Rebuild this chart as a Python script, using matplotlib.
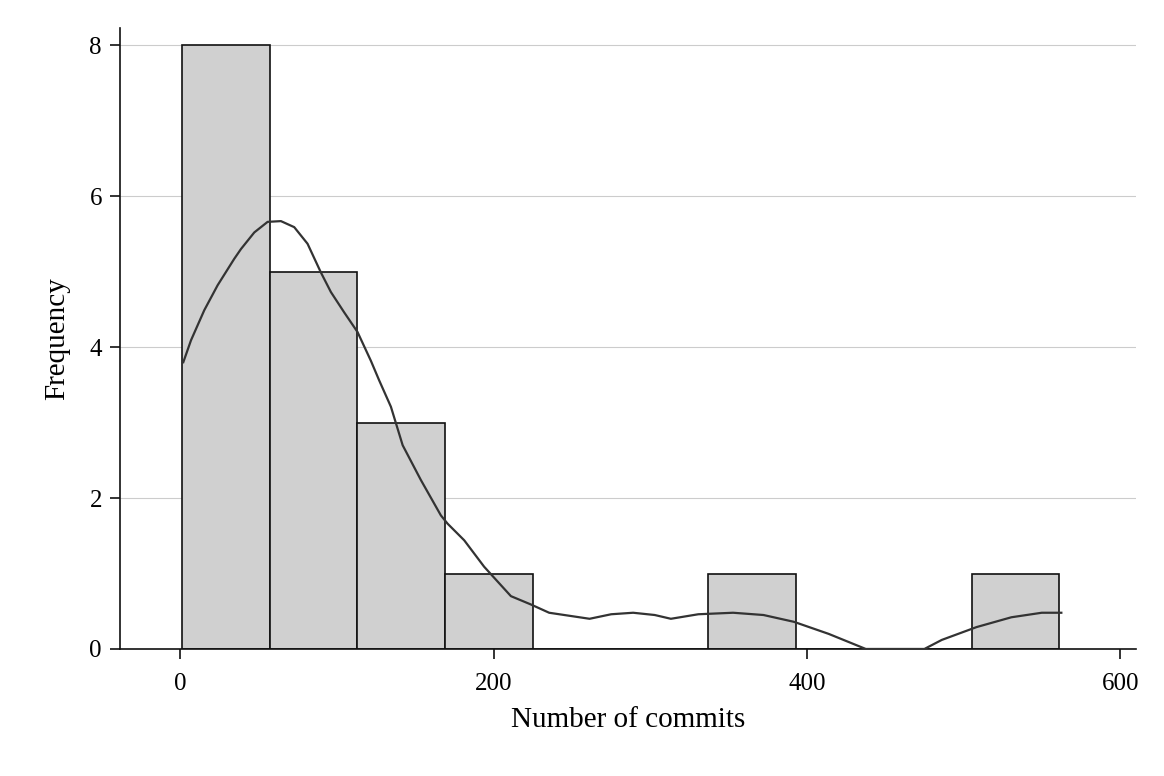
import numpy as np
import matplotlib
matplotlib.use("Agg")
import matplotlib.pyplot as plt

# histogram of commit counts (bin edges and counts)
bin_edges = [1, 57, 113, 169, 225, 281, 337, 393, 449, 505, 561]
counts = [8, 5, 3, 1, 0, 0, 1, 0, 0, 1]

# smoothed density curve, scaled to counts
curve_x = [1.9, 6.8, 15.3, 23.8, 34.4, 38.7, 47.2, 55.7, 64.2, 72.7, 81.2,
           89.7, 96.1, 104.6, 113.1, 121.6, 126.9, 134.4, 141.9, 153.5,
           166.3, 170.6, 181.2, 193.9, 211.0, 223.7, 235.4, 261.2, 275.0,
           289.0, 302.8, 313.1, 330.6, 352.8, 372.2, 391.6, 413.8, 437.5,
           474.9, 486.0, 508.2, 530.4, 549.8, 562.3]
curve_y = [3.80, 4.09, 4.49, 4.82, 5.17, 5.30, 5.52, 5.66, 5.67, 5.59, 5.37,
           4.99, 4.73, 4.46, 4.20, 3.82, 3.56, 3.21, 2.70, 2.24,
           1.77, 1.66, 1.44, 1.09, 0.70, 0.59, 0.48, 0.40, 0.46,
           0.48, 0.45, 0.40, 0.46, 0.48, 0.45, 0.36, 0.20, 0.0,
           0.0, 0.12, 0.29, 0.42, 0.48, 0.48]

x_ticks = [0, 200, 400, 600]
y_ticks = [0, 2, 4, 6, 8]

plt.rcParams['font.family'] = ['Liberation Serif', 'DejaVu Serif']

fig = plt.figure(figsize=(11.64, 7.76), dpi=100)
ax = fig.add_axes([0.1031, 0.1637, 0.8729, 0.8003])

edges = np.array(bin_edges)
ax.bar(edges[:-1], counts, width=np.diff(edges), align='edge',
       color='#d0d0d0', edgecolor='#111111', linewidth=1.2, zorder=2)
ax.plot(curve_x, curve_y, color='#333333', linewidth=1.6, zorder=3)

ax.set_xlim(-38.5, 610)
ax.set_ylim(0, 8.23)
ax.set_xticks(x_ticks)
ax.set_yticks(y_ticks)
ax.yaxis.grid(True, color='#cccccc', linewidth=0.8, zorder=0)
ax.set_axisbelow(True)

for s in ['top', 'right']:
    ax.spines[s].set_visible(False)
for s in ['left', 'bottom']:
    ax.spines[s].set_linewidth(1.2)
    ax.spines[s].set_color('#111111')
ax.tick_params(axis='both', length=7, width=1.2, color='#111111',
               labelsize=18)
ax.tick_params(axis='x', pad=10)
ax.tick_params(axis='y', pad=6)

ax.set_xlabel("Number of commits", fontsize=21, labelpad=9)
ax.set_ylabel("Frequency", fontsize=21, labelpad=14)

fig.savefig("out.png", dpi=100)
